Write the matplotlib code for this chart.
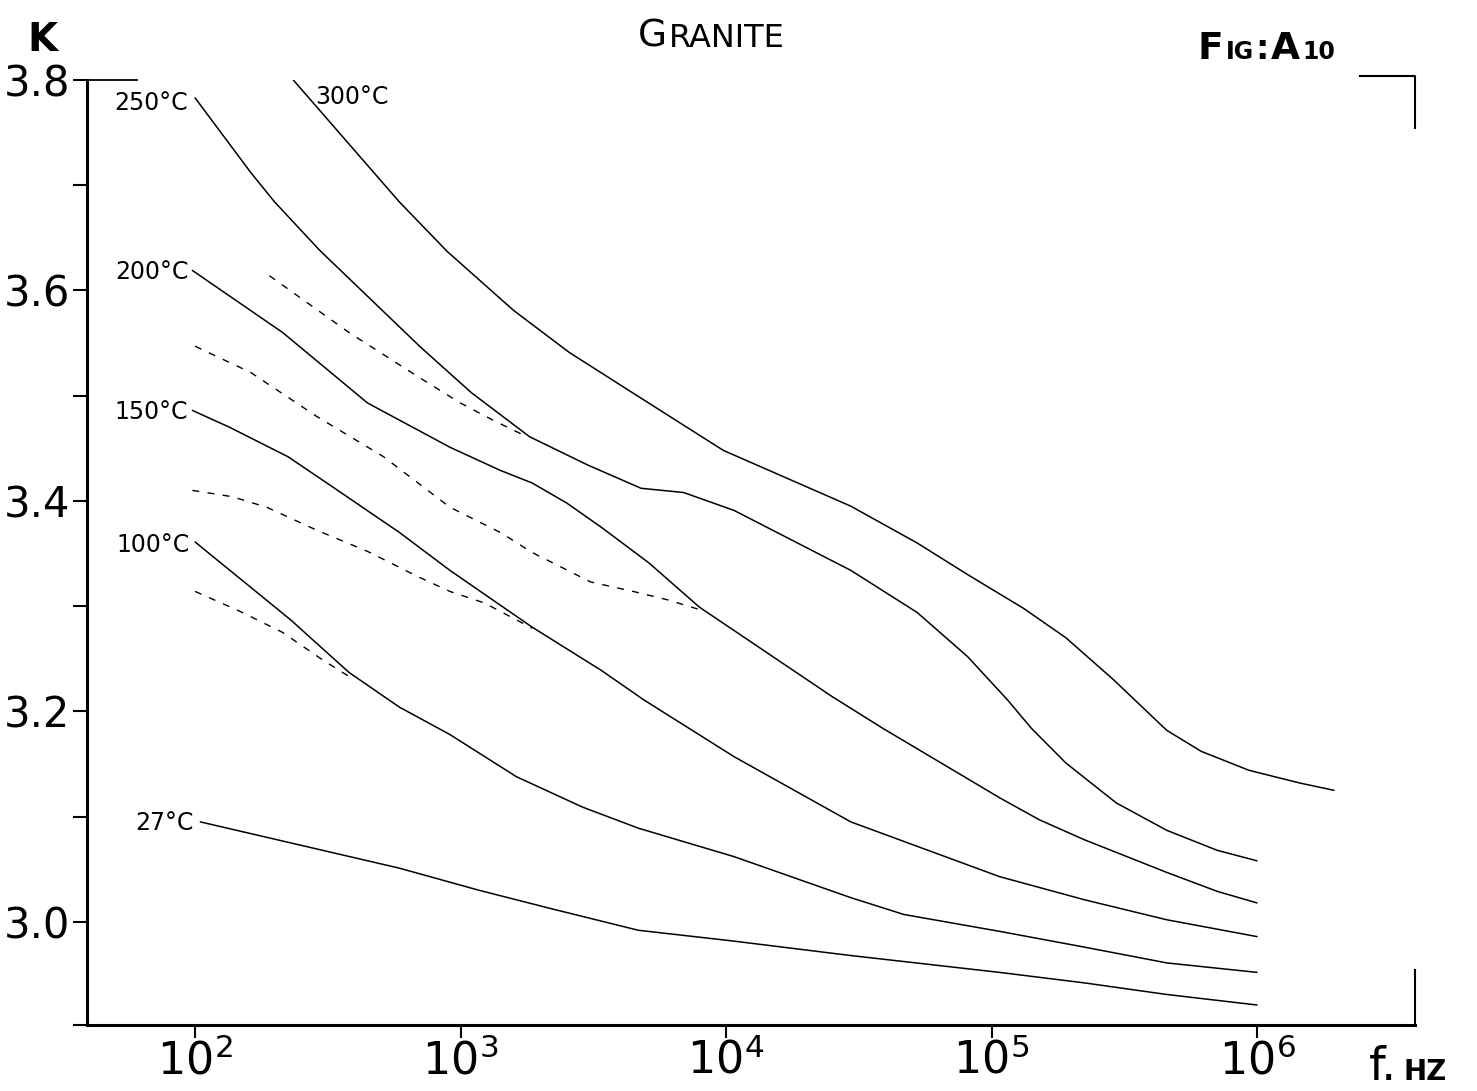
import numpy as np
import matplotlib.pyplot as plt
from matplotlib.ticker import NullLocator

# Granite: dielectric constant K against frequency, one curve per temperature.
# Frequencies are given as log10(f / Hz).
logf_300 = [2.37, 2.77, 2.95, 3.20, 3.41, 3.74, 3.99, 4.47, 4.72, 4.91, 5.12, 5.28, 5.46, 5.66, 5.79,
            5.97, 6.16, 6.29]
k_300 = [3.800, 3.684, 3.637, 3.581, 3.541, 3.488, 3.448, 3.395, 3.360, 3.330, 3.298, 3.270, 3.230,
         3.182, 3.162, 3.144, 3.132, 3.125]

logf_250 = [2.00, 2.21, 2.30, 2.47, 2.85, 3.04, 3.26, 3.48, 3.68, 3.84, 4.03, 4.47, 4.72, 4.91, 5.06,
            5.15, 5.28, 5.47, 5.66, 5.85, 6.00]
k_250 = [3.783, 3.712, 3.684, 3.638, 3.546, 3.503, 3.461, 3.434, 3.412, 3.408, 3.391, 3.334, 3.294,
         3.252, 3.211, 3.184, 3.151, 3.113, 3.087, 3.068, 3.058]

logf_200 = [1.99, 2.33, 2.65, 2.96, 3.15, 3.27, 3.40, 3.53, 3.71, 3.90, 4.40, 4.59, 5.03, 5.18, 5.35,
            5.66, 5.85, 6.00]
k_200 = [3.619, 3.560, 3.493, 3.451, 3.429, 3.417, 3.398, 3.375, 3.341, 3.299, 3.214, 3.184, 3.118,
         3.097, 3.078, 3.047, 3.029, 3.018]

logf_150 = [1.99, 2.13, 2.35, 2.52, 2.77, 2.96, 3.27, 3.53, 3.69, 4.03, 4.47, 5.03, 5.35, 5.66, 6.00]
k_150 = [3.486, 3.470, 3.442, 3.413, 3.370, 3.334, 3.280, 3.239, 3.211, 3.157, 3.095, 3.043, 3.021,
         3.002, 2.986]

logf_100 = [2.00, 2.36, 2.58, 2.77, 2.96, 3.21, 3.46, 3.67, 4.03, 4.47, 4.67, 5.03, 5.35, 5.66, 6.00]
k_100 = [3.361, 3.287, 3.237, 3.204, 3.178, 3.138, 3.109, 3.089, 3.062, 3.023, 3.007, 2.991, 2.976,
         2.961, 2.952]

logf_27 = [2.02, 2.77, 3.07, 3.35, 3.67, 4.02, 4.47, 5.03, 5.35, 5.66, 6.00]
k_27 = [3.095, 3.051, 3.030, 3.012, 2.992, 2.982, 2.968, 2.952, 2.942, 2.931, 2.921]

# dashed branches at the low-frequency end
logf_d1 = [2.28, 2.58, 2.84, 3.00, 3.12, 3.25]
k_d1 = [3.614, 3.560, 3.518, 3.493, 3.477, 3.461]
logf_d2 = [2.00, 2.21, 2.46, 2.71, 2.96, 3.15, 3.27, 3.49, 3.65, 3.78, 3.91]
k_d2 = [3.547, 3.522, 3.480, 3.442, 3.394, 3.370, 3.351, 3.323, 3.314, 3.306, 3.296]
logf_d3 = [1.99, 2.14, 2.27, 2.46, 2.65, 2.84, 2.96, 3.09, 3.27]
k_d3 = [3.410, 3.404, 3.394, 3.372, 3.352, 3.328, 3.314, 3.303, 3.279]
logf_d4 = [2.00, 2.17, 2.33, 2.48, 2.60]
k_d4 = [3.314, 3.295, 3.275, 3.249, 3.230]

temp_labels = ['300°C', '250°C', '200°C', '150°C', '100°C', '27°C']
y_ticks = [3.0, 3.2, 3.4, 3.6, 3.8]
y_minor = [3.1, 3.3, 3.5, 3.7]
x_decades = [2, 3, 4, 5, 6]

fig = plt.figure(figsize=(14.77, 10.91), dpi=100)
ax = fig.add_axes([0.0589, 0.0605, 0.8991, 0.8662])

solid = [(logf_300, k_300), (logf_250, k_250), (logf_200, k_200),
         (logf_150, k_150), (logf_100, k_100), (logf_27, k_27)]
# where each label sits relative to the start of its curve (pixels)
label_offsets = [(22, -17), (-7, -5), (-4, -2), (-4, -2), (-5, -3), (-7, -1)]

for (logf, k), label, off in zip(solid, temp_labels, label_offsets):
    f = 10 ** np.asarray(logf)
    ax.plot(f, k, color='black', lw=1.1, solid_capstyle='round', solid_joinstyle='round')
    ax.annotate(label, xy=(f[0], k[0]), xytext=off, textcoords='offset pixels',
                ha='left' if off[0] > 0 else 'right', va='center', fontsize=17)

for logf, k in [(logf_d1, k_d1), (logf_d2, k_d2), (logf_d3, k_d3), (logf_d4, k_d4)]:
    ax.plot(10 ** np.asarray(logf), k, color='black', lw=1.0, dashes=(5, 6))

ax.set_xscale('log')
ax.set_xlim(10 ** 1.593, 10 ** 6.595)
ax.set_ylim(2.902, 3.8)

ax.set_xticks([10.0 ** d for d in x_decades])
ax.set_xticklabels([f'$10^{{{d}}}$' for d in x_decades])
ax.xaxis.set_minor_locator(NullLocator())
ax.set_yticks(y_ticks)
ax.set_yticklabels([f'{v:.1f}' for v in y_ticks])
ax.set_yticks(y_minor + [2.902], minor=True)

ax.tick_params(axis='y', which='both', direction='out', length=10, width=1.5,
               labelsize=30, pad=2)
ax.tick_params(axis='x', which='major', direction='out', length=9, width=1.5,
               labelsize=32, pad=1)

for side in ['top', 'right']:
    ax.spines[side].set_visible(False)
for side in ['left', 'bottom']:
    ax.spines[side].set_linewidth(2.2)

# frame marks drawn by hand on the original
kw = dict(transform=ax.transAxes, color='black', clip_on=False)
ax.plot([0, 0.0377], [1, 1], lw=1.3, **kw)
ax.plot([0.9586, 1.0, 1.0], [1.0042, 1.0042, 0.9492], lw=1.5, **kw)
ax.plot([1.0, 1.0], [0, 0.058], lw=1.5, **kw)


def lettering(x, y, pieces, **kw):
    # small-caps style text: chained pieces of different sizes on one baseline
    prev_size = pieces[0][1]
    prev = fig.text(x, y, pieces[0][0], fontsize=prev_size, va='baseline', **kw)
    for s, size in pieces[1:]:
        lift = 0.21 * prev_size * 100 / 72
        prev = ax.annotate(s, xy=(1, 0), xycoords=prev, xytext=(2, lift),
                           textcoords='offset pixels', va='baseline', fontsize=size, **kw)
        prev_size = size
    return prev


fig.text(0.0284, 0.9633, 'K', fontsize=28, fontweight='bold', ha='center', va='center')
lettering(0.432, 0.957, [('G', 27), ('RANITE', 23)])
lettering(0.811, 0.946, [('F', 27), ('IG', 17), (':', 24), ('A', 27), ('10', 17)],
          fontweight='bold')
lettering(0.927, 0.0101, [('f.', 34)])
lettering(0.950, 0.0101, [('HZ', 20)], fontweight='bold')

fig.savefig('out.png', dpi=100)
